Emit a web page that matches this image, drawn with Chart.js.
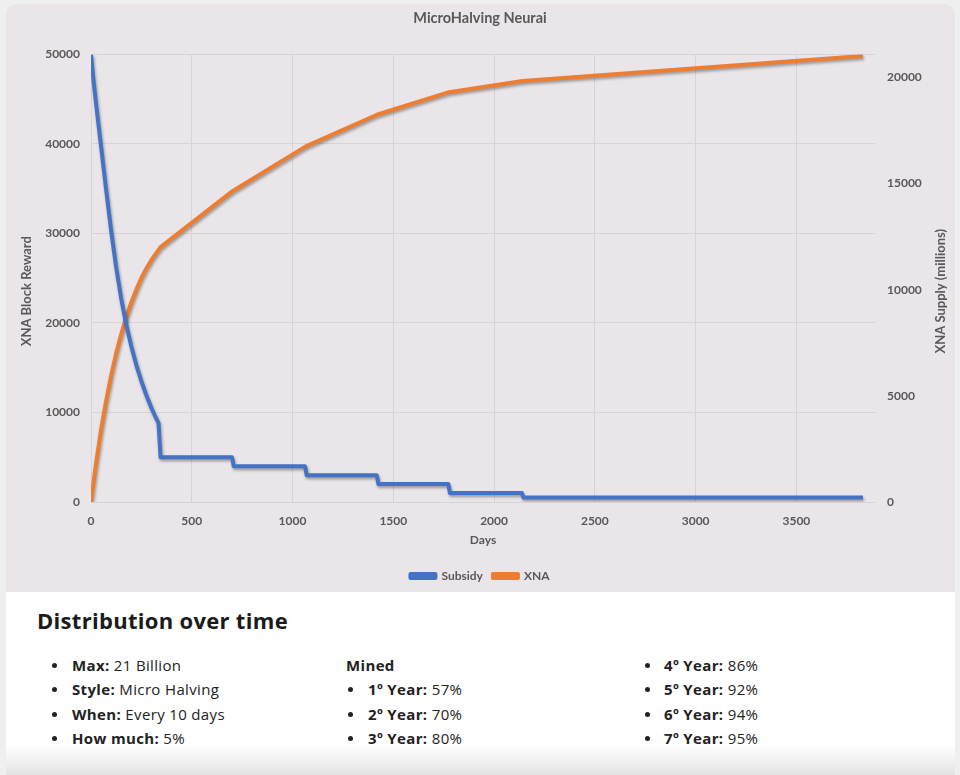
<!DOCTYPE html>
<html>
<head>
<meta charset="utf-8">
<script src="https://cdn.jsdelivr.net/npm/chart.js@4.4.0/dist/chart.umd.min.js"></script>
<style>
html,body{margin:0;padding:0;}
body{width:960px;height:775px;background:#efefef;position:relative;overflow:hidden;font-family:'Open Sans',sans-serif;color:#222;}
#card{position:absolute;left:6px;top:4px;width:949px;height:592px;background:#e9e5e9;border-radius:10px 10px 0 0;}
#chartWrap{position:absolute;left:0;top:0;width:960px;height:592px;}
#info{position:absolute;left:6px;top:592px;width:949px;height:183px;background:linear-gradient(to bottom,#fff 0px,#fff 152px,#e4e4e4 183px);}
#info h2{position:absolute;left:31px;top:14px;margin:0;font-size:22px;letter-spacing:0.3px;font-weight:700;line-height:28px;color:#1b1b1b;}
.col{position:absolute;top:61px;margin:0;padding:0;list-style:none;font-size:15px;letter-spacing:0.35px;line-height:24.3px;}
.col li{position:relative;white-space:nowrap;}
.col li.b::before{content:'';position:absolute;width:5px;height:5px;border-radius:50%;background:#222;top:10px;}
.col b{font-weight:700;}
#c1{left:66px;} #c1 li.b::before{left:-20px;}
#c2{left:340px;} #c2 li.b{padding-left:22px;} #c2 li.b::before{left:2px;}
#c3{left:658px;} #c3 li.b::before{left:-19px;}
</style>
</head>
<body>
<div id="card"></div>
<div id="chartWrap"><canvas id="chart"></canvas></div>
<div id="info">
  <h2>Distribution over time</h2>
  <ul class="col" id="c1">
    <li class="b"><b>Max:</b> 21 Billion</li>
    <li class="b"><b>Style:</b> Micro Halving</li>
    <li class="b"><b>When:</b> Every 10 days</li>
    <li class="b"><b>How much:</b> 5%</li>
  </ul>
  <ul class="col" id="c2">
    <li><b>Mined</b></li>
    <li class="b"><b>1º Year:</b> 57%</li>
    <li class="b"><b>2º Year:</b> 70%</li>
    <li class="b"><b>3º Year:</b> 80%</li>
  </ul>
  <ul class="col" id="c3">
    <li class="b"><b>4º Year:</b> 86%</li>
    <li class="b"><b>5º Year:</b> 92%</li>
    <li class="b"><b>6º Year:</b> 94%</li>
    <li class="b"><b>7º Year:</b> 95%</li>
  </ul>
</div>
<script>
// ---- data ----
const subsidyDays   = [0, 10, 25, 50, 75, 100, 125, 150, 175, 200, 225, 250, 275, 300, 320, 335, 345, 700, 708, 1062, 1070, 1418, 1426, 1773, 1781, 2138, 2146, 3830];
const subsidyValues = [50000, 47600, 44500, 39700, 34900, 30300, 26200, 22700, 19800, 17400, 15300, 13500, 11900, 10500, 9500, 8800, 5000, 5000, 4000, 4000, 3000, 3000, 2000, 2000, 1000, 1000, 500, 500];

const supplyDays   = [0, 10, 25, 50, 75, 100, 125, 150, 175, 200, 225, 250, 275, 300, 345, 704, 1066, 1422, 1777, 2142, 3830];
const supplyValues = [0, 740, 1800, 3400, 4750, 5950, 7000, 7900, 8700, 9400, 10000, 10550, 11000, 11400, 12000, 14650, 16750, 18250, 19300, 19830, 21000];

const xTickValues     = [0, 500, 1000, 1500, 2000, 2500, 3000, 3500];
const leftTickValues  = [0, 10000, 20000, 30000, 40000, 50000];
const rightTickValues = [0, 5000, 10000, 15000, 20000];

const seriesNames = ['Subsidy', 'XNA'];
const chartTitle = 'MicroHalving Neurai';
const xTitle = 'Days';
const leftTitle = 'XNA Block Reward';
const rightTitle = 'XNA Supply (millions)';

// ---- chart ----
Chart.defaults.font.family = 'Lato, "Open Sans", sans-serif';
const GREY = '#595959';
const GRID = '#d7d3d7';

const shadowPlugin = {
  id: 'lineShadow',
  beforeDatasetsDraw(chart) {
    const ctx = chart.ctx;
    ctx.save();
    ctx.shadowColor = 'rgba(0,0,0,0.35)';
    ctx.shadowBlur = 3;
    ctx.shadowOffsetX = 1;
    ctx.shadowOffsetY = 2;
  },
  afterDatasetsDraw(chart) { chart.ctx.restore(); }
};

const axisTitles = {
  id: 'axisTitles',
  afterDraw(chart) {
    const ctx = chart.ctx;
    const midY = (chart.chartArea.top + chart.chartArea.bottom) / 2 + 13;
    [[27, leftTitle], [941, rightTitle]].forEach(([x, txt]) => {
      ctx.save();
      ctx.fillStyle = GREY;
      ctx.font = 'bold 13px Lato, "Open Sans", sans-serif';
      ctx.textAlign = 'center';
      ctx.textBaseline = 'middle';
      ctx.translate(x, midY);
      ctx.rotate(-Math.PI / 2);
      ctx.fillText(txt, 0, 0);
      ctx.restore();
    });
  }
};

const tickFont = {size: 12, weight: 'bold'};
const plain = v => String(v);

new Chart(document.getElementById('chart'), {
  type: 'line',
  data: {
    datasets: [
      {
        label: seriesNames[0],
        data: subsidyDays.map((d, i) => ({x: d, y: subsidyValues[i]})),
        borderColor: '#4472C4',
        backgroundColor: '#4472C4',
        borderWidth: 4,
        pointRadius: 0,
        tension: 0,
        borderJoinStyle: 'round',
        yAxisID: 'y'
      },
      {
        label: seriesNames[1],
        data: supplyDays.map((d, i) => ({x: d, y: supplyValues[i]})),
        borderColor: '#ED7D31',
        backgroundColor: '#ED7D31',
        borderWidth: 4,
        pointRadius: 0,
        tension: 0,
        borderJoinStyle: 'round',
        yAxisID: 'y2'
      }
    ]
  },
  options: {
    responsive: true,
    maintainAspectRatio: false,
    animation: false,
    layout: {padding: 0},
    plugins: {
      title: {
        display: true,
        text: chartTitle,
        color: GREY,
        font: {size: 14.5, weight: 'bold'},
        padding: {top: 10, bottom: 27}
      },
      legend: {
        position: 'bottom',
        labels: {boxWidth: 25, boxHeight: 4, color: GREY, font: {size: 12, weight: 'bold'}, padding: 10}
      },
      tooltip: {enabled: false}
    },
    scales: {
      x: {
        type: 'linear',
        min: 0,
        max: 3890,
        afterBuildTicks: s => { s.ticks = xTickValues.map(v => ({value: v})); },
        afterFit: s => { s.height = 58; },
        grid: {color: GRID, drawTicks: false},
        border: {display: false},
        ticks: {color: GREY, font: tickFont, padding: 12, maxRotation: 0, autoSkip: false, callback: plain},
        title: {display: true, text: xTitle, color: GREY, font: {size: 12, weight: 'bold'}, padding: {top: 4, bottom: 13}}
      },
      y: {
        position: 'left',
        min: 0,
        max: 50000,
        afterBuildTicks: s => { s.ticks = leftTickValues.map(v => ({value: v})); },
        afterFit: s => { s.width = 91; },
        grid: {color: GRID, drawTicks: false},
        border: {display: false},
        ticks: {color: GREY, font: tickFont, padding: 11, callback: plain}
      },
      y2: {
        position: 'right',
        min: 0,
        max: 21080,
        afterBuildTicks: s => { s.ticks = rightTickValues.map(v => ({value: v})); },
        afterFit: s => { s.width = 85; },
        grid: {display: false, drawTicks: false},
        border: {display: false},
        ticks: {color: GREY, font: tickFont, padding: 12, callback: plain}
      }
    }
  },
  plugins: [shadowPlugin, axisTitles]
});
</script>
</body>
</html>
